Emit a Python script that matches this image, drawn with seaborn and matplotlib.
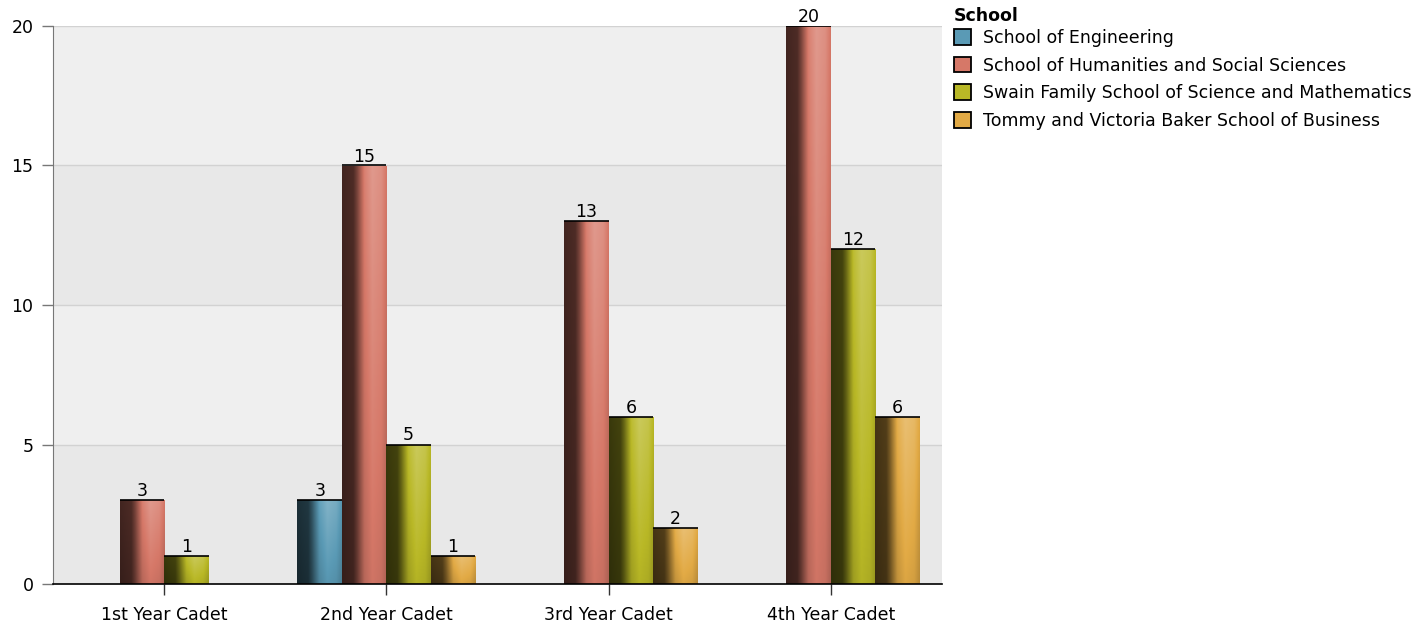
import matplotlib
matplotlib.use('Agg')
from matplotlib import pyplot as plt
from matplotlib.patches import Patch
import seaborn as sns
import numpy as np
import pandas as pd

years = ['1st Year Cadet', '2nd Year Cadet', '3rd Year Cadet', '4th Year Cadet']
schools = ['School of Engineering',
           'School of Humanities and Social Sciences',
           'Swain Family School of Science and Mathematics',
           'Tommy and Victoria Baker School of Business']
engineering = [None, 3, None, None]
humanities = [3, 15, 13, 20]
swain = [1, 5, 6, 12]
business = [None, 1, 2, 6]
colors = ['#5a9ab5', '#d67868', '#b9b826', '#e2aa45']

rows = []
for school, vals in zip(schools, [engineering, humanities, swain, business]):
    for year, v in zip(years, vals):
        if v is not None:
            rows.append({'Year': year, 'School': school, 'Count': v})
df = pd.DataFrame(rows)


def gradient(color, n=64):
    base = np.array(matplotlib.colors.to_rgb(color))
    u = np.linspace(0, 1, n)
    hx = np.interp(u, [0, 0.25, 0.33, 0.5, 0.68, 0.88, 1.0],
                   [0.28, 0.33, 0.5, 0.95, 1.08, 1.03, 0.9])
    v = np.linspace(0, 1, n)  # 0 = top
    vy = np.interp(v, [0, 1], [1.1, 0.9])
    img = np.zeros((n, n, 3))
    for i in range(n):
        for j in range(n):
            m = hx[j] * vy[i]
            if m <= 1:
                c = base * m
            else:
                c = base + (1 - base) * (m - 1) * 1.3
            img[i, j] = np.clip(c, 0, 1)
    return img


sns.set_style('white')
plt.rcParams['font.family'] = ['DejaVu Sans']
plt.rcParams['text.color'] = 'black'
fig = plt.figure(figsize=(14.27, 6.27), dpi=100)
ax = fig.add_axes([53 / 1427, 1 - 584 / 627, 889 / 1427, 558 / 627])

sns.barplot(data=df, x='Year', y='Count', hue='School', order=years,
            hue_order=schools, palette=colors, width=0.8, ax=ax,
            legend=False, saturation=1)

ax.set_xlim(-0.5, 3.5)
ax.set_ylim(0, 20)

# alternating background bands
band_cols = ['#e8e8e8', '#efefef']
for k, lo in enumerate(range(0, 20, 5)):
    ax.axhspan(lo, lo + 5, color=band_cols[k % 2], zorder=0, lw=0)
for yv in [5, 10, 15, 20]:
    ax.axhline(yv, color='#d2d2d2', lw=1, zorder=0.5)

for cont, col in zip(ax.containers, colors):
    img = gradient(col)
    for p in cont.patches:
        h = p.get_height()
        if not np.isfinite(h) or h == 0:
            continue
        x0, w = p.get_x(), p.get_width()
        p.set_facecolor('none')
        p.set_edgecolor('none')
        im = ax.imshow(img, extent=[x0, x0 + w, 0, h], aspect='auto',
                       zorder=2, interpolation='bilinear')
        im.set_clip_path(p)
        ax.plot([x0, x0 + w], [h, h], color='black', lw=1.2, zorder=3,
                solid_capstyle='butt')
    labels = [f'{p.get_height():g}' if np.isfinite(p.get_height()) else ''
              for p in cont.patches]
    ax.bar_label(cont, labels=labels, fontsize=12.5, padding=0, zorder=4,
                 color='black')

ax.set_xlabel('')
ax.set_ylabel('')
ax.set_yticks([0, 5, 10, 15, 20])
ax.tick_params(axis='both', labelsize=12.5, labelcolor='black')
ax.tick_params(axis='x', length=8, width=1, color='#333333', pad=8)
ax.tick_params(axis='y', length=8, width=1, color='#777777', pad=6)
ax.xaxis.set_ticks_position('bottom')
ax.yaxis.set_ticks_position('left')
for s in ['top', 'right']:
    ax.spines[s].set_visible(False)
ax.spines['left'].set_color('#777777')
ax.spines['bottom'].set_color('black')
ax.spines['bottom'].set_linewidth(1.2)

handles = [Patch(facecolor=c, edgecolor='black', lw=1.3) for c in colors]
leg = fig.legend(handles, schools, title='School', loc='upper left',
                 bbox_to_anchor=(947 / 1427, 1.0), frameon=False,
                 fontsize=12.5, title_fontproperties={'weight': 'bold', 'size': 12.5},
                 handlelength=1.0, handleheight=1.0, handletextpad=0.7,
                 labelspacing=0.55, borderaxespad=0)
leg._legend_box.align = 'left'
leg._legend_box.sep = 3
for t in leg.get_texts():
    t.set_color('black')
leg.get_title().set_color('black')

fig.savefig('out.png', dpi=100)
